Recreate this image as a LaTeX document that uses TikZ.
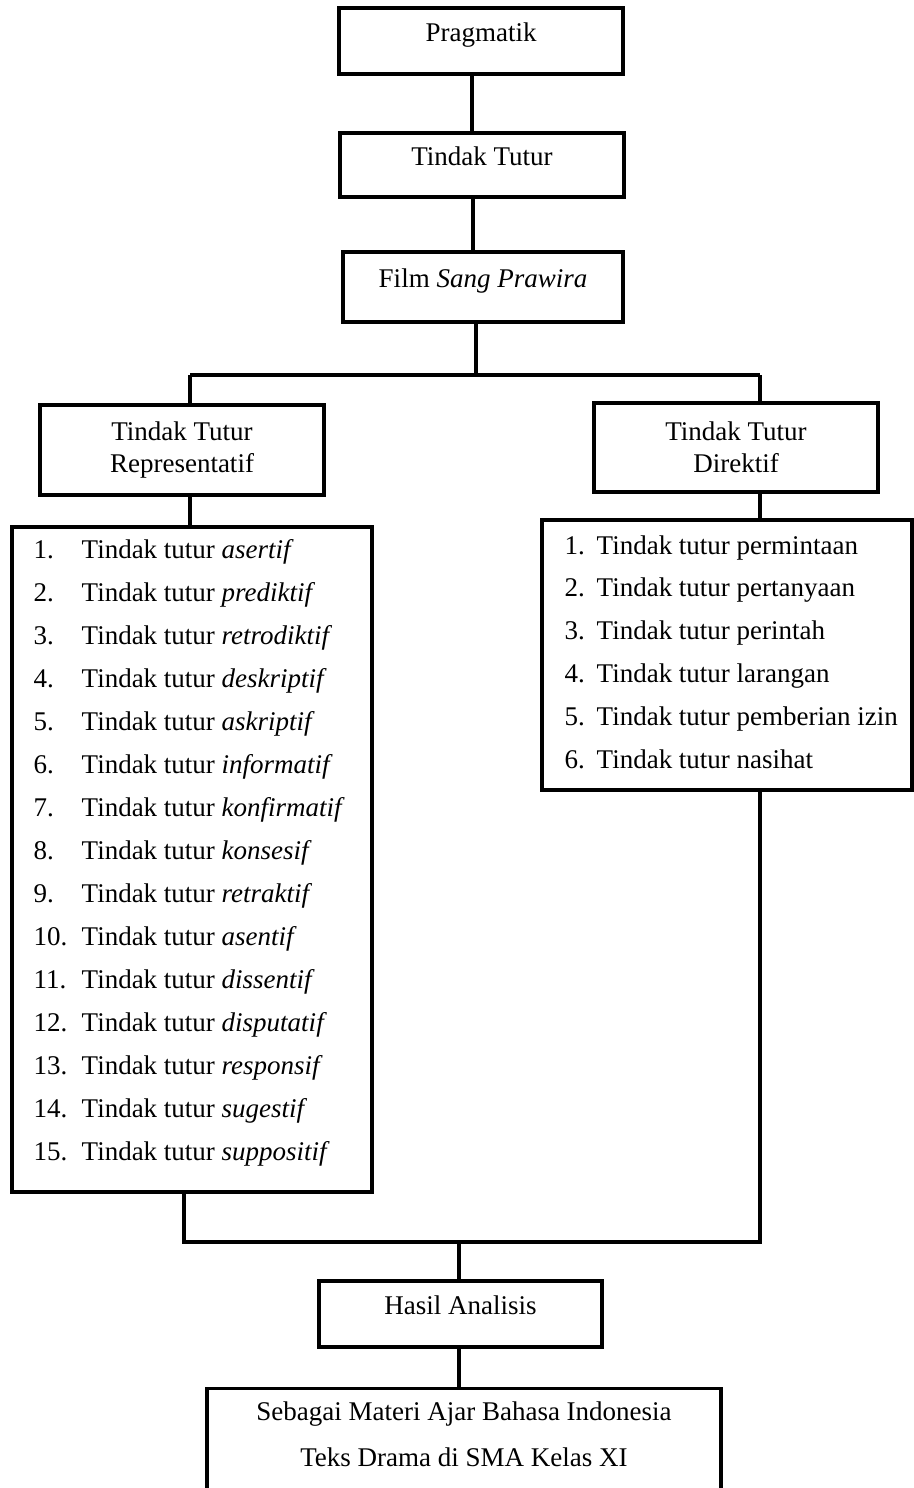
\documentclass[tikz,border=0pt]{standalone}
\usepackage{fontspec}
\setmainfont{Liberation Serif}
\usepackage{tikz}
\usetikzlibrary{positioning}

\begin{document}
\begin{tikzpicture}[
			x=0.5pt, y=-0.5pt,
			line width=1.7pt,
			box/.style={draw, fill=white, align=center, inner sep=0pt, font=\fontsize{13.5}{16}\selectfont, text height=10pt, text depth=10pt},
			headbox/.style={draw, fill=white, align=center, inner sep=0pt, font=\fontsize{13.5}{16}\selectfont},
			listbox/.style={draw, fill=white, inner sep=0pt},
			item/.style={inner sep=0pt, anchor=base west, font=\fontsize{13.5}{16}\selectfont},
			link/.style={draw, line width=1.7pt}
			]
			
			\useasboundingbox (0,0) rectangle (914,1488);
			\clip (0,0) rectangle (914,1488);
			
			% Top column
			\node[box, minimum width=142pt, minimum height=33pt] (prag) at (481,41) {Pragmatik};
			\node[box, minimum width=142pt, minimum height=32pt] (tutur) at (482,165) {Tindak Tutur};
			\node[box, minimum width=140pt, minimum height=35pt] (film) at (483,287) {Film \textit{Sang Prawira}};
			
			% Two branches
			\node[headbox, minimum width=142pt, minimum height=45pt] (rep) at (182,450) {Tindak Tutur\\Representatif};
			\node[headbox, minimum width=142pt, minimum height=44.5pt] (dir) at (736,447.5) {Tindak Tutur\\Direktif};
			
			% List boxes
			\node[listbox, minimum width=180pt, minimum height=332.5pt] (replist) at (192,859.5) {};
			\node[listbox, minimum width=185pt, minimum height=135pt] (dirlist) at (727,655) {};
			
			% Representatif items
			\foreach \i/\w in {1/asertif, 2/prediktif, 3/retrodiktif, 4/deskriptif, 5/askriptif,
				6/informatif, 7/konfirmatif, 8/konsesif, 9/retraktif, 10/asentif,
				11/dissentif, 12/disputatif, 13/responsif, 14/sugestif, 15/suppositif} {
				\node[item] (repnum\i) at (32,{558+(\i-1)*43.07}) {\i.};
				\node[item] (repitem\i) at (80,{558+(\i-1)*43.07}) {Tindak tutur \textit{\w}};
			}
			
			% Direktif items
			\foreach \i/\w in {1/permintaan, 2/pertanyaan, 3/perintah, 4/larangan, 5/pemberian izin, 6/nasihat} {
				\node[item] (dirnum\i) at (563,{554+(\i-1)*42.8}) {\i.};
				\node[item] (diritem\i) at (595,{554+(\i-1)*42.8}) {Tindak tutur \w};
			}
			
			% Bottom boxes
			\node[box, minimum width=141.5pt, minimum height=33pt] (hasil) at (460.5,1314) {Hasil Analisis};
			\node[draw, fill=white, anchor=north, minimum width=257pt, inner xsep=0pt, inner ysep=6.5pt, text height=9.5pt, text depth=40pt, font=\fontsize{13.5}{16}\selectfont] (materi) at (464,1387)
			{\begin{tabular}[t]{@{}c@{}}Sebagai Materi Ajar Bahasa Indonesia\\[7pt]Teks Drama di SMA Kelas XI\end{tabular}};
			
			% Branch points
			\coordinate (split) at (476,375);
			\coordinate (splitL) at (190,375);
			\coordinate (splitR) at (760,375);
			\coordinate (joinL) at (184,1242);
			\coordinate (joinR) at (760,1242);
			\coordinate (join) at (459,1242);
			
			% Edges
			\draw[link] ([xshift=-4.5pt]prag.south) -- ([xshift=-4.5pt]prag.south |- tutur.north);
			\draw[link] ([xshift=-4.5pt]tutur.south) -- ([xshift=-4.5pt]tutur.south |- film.north);
			\draw[link] (film.south -| split) -- (split);
			\draw[link] (splitL) -- (splitR);
			\draw[link] (splitL) -- (splitL |- rep.north);
			\draw[link] (splitR) -- (splitR |- dir.north);
			\draw[link] (rep.south -| splitL) -- (splitL |- replist.north);
			\draw[link] (dir.south -| splitR) -- (splitR |- dirlist.north);
			\draw[link] (replist.south -| joinL) -- (joinL) -- (joinR) -- (dirlist.south -| joinR);
			\draw[link] (join) -- (join |- hasil.north);
			\draw[link] (hasil.south -| join) -- (join |- materi.north);
			
		\end{tikzpicture}
\end{document}
